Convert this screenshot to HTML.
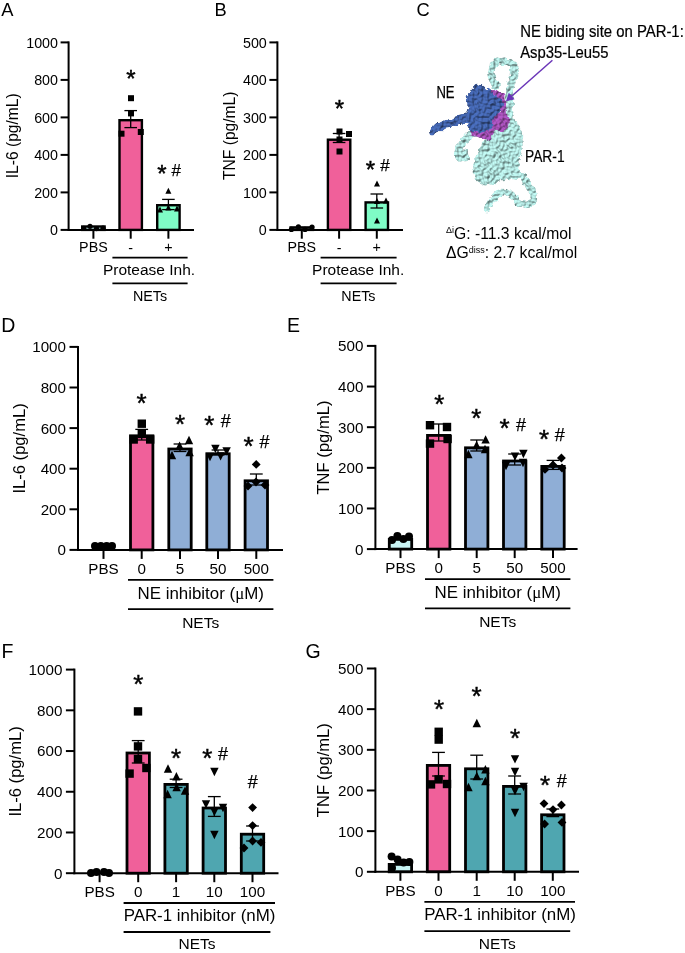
<!DOCTYPE html>
<html lang="en"><head><meta charset="utf-8"><title>Figure</title>
<style>
html,body{margin:0;padding:0;background:#fff;overflow:hidden;}
svg{display:block;font-family:'Liberation Sans', Arial, sans-serif;fill:#000;}
</style></head>
<body>
<svg width="685" height="953" viewBox="0 0 685 953">
<rect width="685" height="953" fill="#fff"/>
<g>
<text x="1.20" y="15.60" font-size="18.3" text-anchor="start" >A</text>
<rect x="82.20" y="226.50" width="22.40" height="3.40" fill="#C8F4F4" stroke="#000" stroke-width="2.4"/>
<rect x="119.50" y="120.20" width="22.40" height="109.70" fill="#F0609A" stroke="#000" stroke-width="2.4"/>
<rect x="157.20" y="205.20" width="22.40" height="24.70" fill="#7FFCC6" stroke="#000" stroke-width="2.4"/>
<line x1="130.70" y1="110.60" x2="130.70" y2="127.60" stroke="#000" stroke-width="1.3" />
<line x1="124.40" y1="110.60" x2="137.00" y2="110.60" stroke="#000" stroke-width="1.3" />
<line x1="124.40" y1="127.60" x2="137.00" y2="127.60" stroke="#000" stroke-width="1.3" />
<line x1="168.40" y1="199.40" x2="168.40" y2="209.60" stroke="#000" stroke-width="1.3" />
<line x1="162.10" y1="199.40" x2="174.70" y2="199.40" stroke="#000" stroke-width="1.3" />
<line x1="162.10" y1="209.60" x2="174.70" y2="209.60" stroke="#000" stroke-width="1.3" />
<circle cx="83.80" cy="228.40" r="2.60" fill="#000"/>
<circle cx="90.00" cy="226.30" r="2.60" fill="#000"/>
<circle cx="96.50" cy="228.60" r="2.60" fill="#000"/>
<circle cx="103.00" cy="228.20" r="2.60" fill="#000"/>
<rect x="128.00" y="95.20" width="6" height="6" fill="#000"/>
<rect x="128.00" y="110.40" width="6" height="6" fill="#000"/>
<rect x="118.50" y="130.70" width="6" height="6" fill="#000"/>
<rect x="137.80" y="129.00" width="6" height="6" fill="#000"/>
<polygon points="165.40,193.80 171.40,193.80 168.40,187.80" fill="#000"/>
<polygon points="157.00,212.50 163.00,212.50 160.00,206.50" fill="#000"/>
<polygon points="174.00,211.50 180.00,211.50 177.00,205.50" fill="#000"/>
<polygon points="165.40,210.50 171.40,210.50 168.40,204.50" fill="#000"/>
<line x1="68.60" y1="41.40" x2="68.60" y2="230.90" stroke="#000" stroke-width="2" />
<line x1="67.60" y1="229.90" x2="194.00" y2="229.90" stroke="#000" stroke-width="2" />
<line x1="60.60" y1="229.90" x2="68.60" y2="229.90" stroke="#000" stroke-width="2" />
<text x="58.00" y="235.02" font-size="14.3" text-anchor="end" >0</text>
<line x1="60.60" y1="192.40" x2="68.60" y2="192.40" stroke="#000" stroke-width="2" />
<text x="58.00" y="197.52" font-size="14.3" text-anchor="end" >200</text>
<line x1="60.60" y1="154.90" x2="68.60" y2="154.90" stroke="#000" stroke-width="2" />
<text x="58.00" y="160.02" font-size="14.3" text-anchor="end" >400</text>
<line x1="60.60" y1="117.40" x2="68.60" y2="117.40" stroke="#000" stroke-width="2" />
<text x="58.00" y="122.52" font-size="14.3" text-anchor="end" >600</text>
<line x1="60.60" y1="79.90" x2="68.60" y2="79.90" stroke="#000" stroke-width="2" />
<text x="58.00" y="85.02" font-size="14.3" text-anchor="end" >800</text>
<line x1="60.60" y1="42.40" x2="68.60" y2="42.40" stroke="#000" stroke-width="2" />
<text x="58.00" y="47.52" font-size="14.3" text-anchor="end" >1000</text>
<line x1="93.40" y1="229.90" x2="93.40" y2="238.70" stroke="#000" stroke-width="2" />
<text x="93.40" y="251.60" font-size="14.3" text-anchor="middle" >PBS</text>
<line x1="130.70" y1="229.90" x2="130.70" y2="238.70" stroke="#000" stroke-width="2" />
<text x="130.70" y="253.20" font-size="14.3" text-anchor="middle" >-</text>
<line x1="168.40" y1="229.90" x2="168.40" y2="238.70" stroke="#000" stroke-width="2" />
<text x="168.40" y="251.60" font-size="14.3" text-anchor="middle" >+</text>
<text transform="translate(18.40,135.75) rotate(-90)" font-size="15.6" text-anchor="middle">IL-6 (pg/mL)</text>
<text x="130.80" y="87.20" font-size="24" text-anchor="middle" stroke="#000" stroke-width="0.45">*</text>
<text x="162.00" y="182.20" font-size="24" text-anchor="middle" stroke="#000" stroke-width="0.45">*</text>
<text x="176.30" y="175.50" font-size="17" text-anchor="middle" stroke="#000" stroke-width="0.25">#</text>
<line x1="112.40" y1="257.60" x2="187.60" y2="257.60" stroke="#000" stroke-width="1.8" />
<text x="149.00" y="275.00" font-size="15.5" text-anchor="middle" >Protease Inh.</text>
<line x1="112.40" y1="283.40" x2="187.60" y2="283.40" stroke="#000" stroke-width="1.8" />
<text x="150.00" y="300.60" font-size="14.3" text-anchor="middle" >NETs</text>
</g>
<g>
<text x="214.40" y="15.60" font-size="18.3" text-anchor="start" >B</text>
<rect x="290.60" y="227.40" width="22.40" height="2.50" fill="#C8F4F4" stroke="#000" stroke-width="2.4"/>
<rect x="327.90" y="139.70" width="22.40" height="90.20" fill="#F0609A" stroke="#000" stroke-width="2.4"/>
<rect x="365.60" y="202.40" width="22.40" height="27.50" fill="#7FFCC6" stroke="#000" stroke-width="2.4"/>
<line x1="339.10" y1="133.50" x2="339.10" y2="142.50" stroke="#000" stroke-width="1.3" />
<line x1="332.80" y1="133.50" x2="345.40" y2="133.50" stroke="#000" stroke-width="1.3" />
<line x1="332.80" y1="142.50" x2="345.40" y2="142.50" stroke="#000" stroke-width="1.3" />
<line x1="376.80" y1="194.00" x2="376.80" y2="208.00" stroke="#000" stroke-width="1.3" />
<line x1="370.50" y1="194.00" x2="383.10" y2="194.00" stroke="#000" stroke-width="1.3" />
<line x1="370.50" y1="208.00" x2="383.10" y2="208.00" stroke="#000" stroke-width="1.3" />
<circle cx="291.40" cy="229.40" r="2.60" fill="#000"/>
<circle cx="298.40" cy="226.80" r="2.60" fill="#000"/>
<circle cx="305.00" cy="229.40" r="2.60" fill="#000"/>
<circle cx="312.00" cy="227.00" r="2.60" fill="#000"/>
<rect x="336.50" y="128.50" width="6" height="6" fill="#000"/>
<rect x="346.00" y="131.00" width="6" height="6" fill="#000"/>
<rect x="336.50" y="136.50" width="6" height="6" fill="#000"/>
<rect x="336.50" y="148.50" width="6" height="6" fill="#000"/>
<polygon points="374.00,186.50 380.00,186.50 377.00,180.50" fill="#000"/>
<polygon points="383.00,203.50 389.00,203.50 386.00,197.50" fill="#000"/>
<polygon points="374.00,204.00 380.00,204.00 377.00,198.00" fill="#000"/>
<polygon points="374.00,223.50 380.00,223.50 377.00,217.50" fill="#000"/>
<line x1="277.40" y1="41.40" x2="277.40" y2="230.90" stroke="#000" stroke-width="2" />
<line x1="276.40" y1="229.90" x2="403.00" y2="229.90" stroke="#000" stroke-width="2" />
<line x1="269.40" y1="229.90" x2="277.40" y2="229.90" stroke="#000" stroke-width="2" />
<text x="266.80" y="235.02" font-size="14.3" text-anchor="end" >0</text>
<line x1="269.40" y1="192.40" x2="277.40" y2="192.40" stroke="#000" stroke-width="2" />
<text x="266.80" y="197.52" font-size="14.3" text-anchor="end" >100</text>
<line x1="269.40" y1="154.90" x2="277.40" y2="154.90" stroke="#000" stroke-width="2" />
<text x="266.80" y="160.02" font-size="14.3" text-anchor="end" >200</text>
<line x1="269.40" y1="117.40" x2="277.40" y2="117.40" stroke="#000" stroke-width="2" />
<text x="266.80" y="122.52" font-size="14.3" text-anchor="end" >300</text>
<line x1="269.40" y1="79.90" x2="277.40" y2="79.90" stroke="#000" stroke-width="2" />
<text x="266.80" y="85.02" font-size="14.3" text-anchor="end" >400</text>
<line x1="269.40" y1="42.40" x2="277.40" y2="42.40" stroke="#000" stroke-width="2" />
<text x="266.80" y="47.52" font-size="14.3" text-anchor="end" >500</text>
<line x1="301.80" y1="229.90" x2="301.80" y2="238.70" stroke="#000" stroke-width="2" />
<text x="301.80" y="251.60" font-size="14.3" text-anchor="middle" >PBS</text>
<line x1="339.10" y1="229.90" x2="339.10" y2="238.70" stroke="#000" stroke-width="2" />
<text x="339.10" y="253.20" font-size="14.3" text-anchor="middle" >-</text>
<line x1="376.80" y1="229.90" x2="376.80" y2="238.70" stroke="#000" stroke-width="2" />
<text x="376.80" y="251.60" font-size="14.3" text-anchor="middle" >+</text>
<text transform="translate(234.60,135.75) rotate(-90)" font-size="15.6" text-anchor="middle">TNF (pg/mL)</text>
<text x="339.50" y="116.70" font-size="24" text-anchor="middle" stroke="#000" stroke-width="0.45">*</text>
<text x="370.50" y="177.70" font-size="24" text-anchor="middle" stroke="#000" stroke-width="0.45">*</text>
<text x="385.00" y="170.90" font-size="17" text-anchor="middle" stroke="#000" stroke-width="0.25">#</text>
<line x1="320.60" y1="257.60" x2="396.60" y2="257.60" stroke="#000" stroke-width="1.8" />
<text x="358.20" y="275.00" font-size="15.5" text-anchor="middle" >Protease Inh.</text>
<line x1="320.60" y1="283.40" x2="396.60" y2="283.40" stroke="#000" stroke-width="1.8" />
<text x="358.40" y="300.60" font-size="14.3" text-anchor="middle" >NETs</text>
</g>
<g>
<text x="1.30" y="331.70" font-size="19.5" text-anchor="start" >D</text>
<rect x="130.50" y="435.80" width="22.40" height="114.10" fill="#F0609A" stroke="#000" stroke-width="2.8"/>
<rect x="168.80" y="449.00" width="22.40" height="100.90" fill="#8FAED6" stroke="#000" stroke-width="2.8"/>
<rect x="206.80" y="453.80" width="22.40" height="96.10" fill="#8FAED6" stroke="#000" stroke-width="2.8"/>
<rect x="245.10" y="480.80" width="22.40" height="69.10" fill="#8FAED6" stroke="#000" stroke-width="2.8"/>
<line x1="141.70" y1="429.40" x2="141.70" y2="440.00" stroke="#000" stroke-width="1.3" />
<line x1="135.30" y1="429.40" x2="148.10" y2="429.40" stroke="#000" stroke-width="1.3" />
<line x1="135.30" y1="440.00" x2="148.10" y2="440.00" stroke="#000" stroke-width="1.3" />
<line x1="180.00" y1="444.00" x2="180.00" y2="451.50" stroke="#000" stroke-width="1.3" />
<line x1="173.60" y1="444.00" x2="186.40" y2="444.00" stroke="#000" stroke-width="1.3" />
<line x1="173.60" y1="451.50" x2="186.40" y2="451.50" stroke="#000" stroke-width="1.3" />
<line x1="218.00" y1="450.00" x2="218.00" y2="455.00" stroke="#000" stroke-width="1.3" />
<line x1="211.60" y1="450.00" x2="224.40" y2="450.00" stroke="#000" stroke-width="1.3" />
<line x1="211.60" y1="455.00" x2="224.40" y2="455.00" stroke="#000" stroke-width="1.3" />
<line x1="256.30" y1="474.00" x2="256.30" y2="485.00" stroke="#000" stroke-width="1.3" />
<line x1="249.90" y1="474.00" x2="262.70" y2="474.00" stroke="#000" stroke-width="1.3" />
<line x1="249.90" y1="485.00" x2="262.70" y2="485.00" stroke="#000" stroke-width="1.3" />
<circle cx="95.00" cy="546.00" r="4.00" fill="#000"/>
<circle cx="100.80" cy="546.00" r="4.00" fill="#000"/>
<circle cx="106.60" cy="546.00" r="4.00" fill="#000"/>
<circle cx="112.00" cy="546.00" r="4.00" fill="#000"/>
<rect x="137.60" y="419.50" width="8.4" height="8.4" fill="#000"/>
<rect x="137.60" y="429.80" width="8.4" height="8.4" fill="#000"/>
<rect x="129.50" y="435.30" width="8.4" height="8.4" fill="#000"/>
<rect x="146.00" y="435.30" width="8.4" height="8.4" fill="#000"/>
<polygon points="184.80,444.20 193.20,444.20 189.00,435.80" fill="#000"/>
<polygon points="175.40,449.80 183.80,449.80 179.60,441.40" fill="#000"/>
<polygon points="167.80,459.20 176.20,459.20 172.00,450.80" fill="#000"/>
<polygon points="185.40,456.20 193.80,456.20 189.60,447.80" fill="#000"/>
<polygon points="211.20,444.80 219.60,444.80 215.40,453.20" fill="#000"/>
<polygon points="222.40,447.20 230.80,447.20 226.60,455.60" fill="#000"/>
<polygon points="205.80,452.80 214.20,452.80 210.00,461.20" fill="#000"/>
<polygon points="216.40,452.20 224.80,452.20 220.60,460.60" fill="#000"/>
<polygon points="251.79,464.40 256.20,459.99 260.61,464.40 256.20,468.81" fill="#000"/>
<polygon points="243.59,486.00 248.00,481.59 252.41,486.00 248.00,490.41" fill="#000"/>
<polygon points="260.59,485.00 265.00,480.59 269.41,485.00 265.00,489.41" fill="#000"/>
<polygon points="251.59,482.00 256.00,477.59 260.41,482.00 256.00,486.41" fill="#000"/>
<line x1="78.00" y1="345.90" x2="78.00" y2="550.90" stroke="#000" stroke-width="2" />
<line x1="77.00" y1="549.90" x2="283.00" y2="549.90" stroke="#000" stroke-width="2" />
<line x1="69.50" y1="549.90" x2="78.00" y2="549.90" stroke="#000" stroke-width="2" />
<text x="66.00" y="555.34" font-size="15.2" text-anchor="end" >0</text>
<line x1="69.50" y1="509.30" x2="78.00" y2="509.30" stroke="#000" stroke-width="2" />
<text x="66.00" y="514.74" font-size="15.2" text-anchor="end" >200</text>
<line x1="69.50" y1="468.70" x2="78.00" y2="468.70" stroke="#000" stroke-width="2" />
<text x="66.00" y="474.14" font-size="15.2" text-anchor="end" >400</text>
<line x1="69.50" y1="428.10" x2="78.00" y2="428.10" stroke="#000" stroke-width="2" />
<text x="66.00" y="433.54" font-size="15.2" text-anchor="end" >600</text>
<line x1="69.50" y1="387.50" x2="78.00" y2="387.50" stroke="#000" stroke-width="2" />
<text x="66.00" y="392.94" font-size="15.2" text-anchor="end" >800</text>
<line x1="69.50" y1="346.90" x2="78.00" y2="346.90" stroke="#000" stroke-width="2" />
<text x="66.00" y="352.34" font-size="15.2" text-anchor="end" >1000</text>
<line x1="103.50" y1="549.90" x2="103.50" y2="558.90" stroke="#000" stroke-width="2" />
<text x="103.50" y="573.90" font-size="15.2" text-anchor="middle" >PBS</text>
<line x1="141.70" y1="549.90" x2="141.70" y2="558.90" stroke="#000" stroke-width="2" />
<text x="141.70" y="573.90" font-size="15.2" text-anchor="middle" >0</text>
<line x1="180.00" y1="549.90" x2="180.00" y2="558.90" stroke="#000" stroke-width="2" />
<text x="180.00" y="573.90" font-size="15.2" text-anchor="middle" >5</text>
<line x1="218.00" y1="549.90" x2="218.00" y2="558.90" stroke="#000" stroke-width="2" />
<text x="218.00" y="573.90" font-size="15.2" text-anchor="middle" >50</text>
<line x1="256.30" y1="549.90" x2="256.30" y2="558.90" stroke="#000" stroke-width="2" />
<text x="256.30" y="573.90" font-size="15.2" text-anchor="middle" >500</text>
<text transform="translate(24.60,448.40) rotate(-90)" font-size="16.6" text-anchor="middle">IL-6 (pg/mL)</text>
<text x="141.60" y="412.00" font-size="26" text-anchor="middle" stroke="#000" stroke-width="0.45">*</text>
<text x="180.00" y="432.60" font-size="26" text-anchor="middle" stroke="#000" stroke-width="0.45">*</text>
<text x="209.40" y="434.00" font-size="26" text-anchor="middle" stroke="#000" stroke-width="0.45">*</text>
<text x="225.70" y="427.20" font-size="18" text-anchor="middle" stroke="#000" stroke-width="0.25">#</text>
<text x="248.60" y="455.00" font-size="26" text-anchor="middle" stroke="#000" stroke-width="0.45">*</text>
<text x="264.50" y="447.80" font-size="18" text-anchor="middle" stroke="#000" stroke-width="0.25">#</text>
<line x1="128.00" y1="579.90" x2="273.40" y2="579.90" stroke="#000" stroke-width="1.8" />
<text x="200.70" y="598.90" font-size="16.9" text-anchor="middle" >NE inhibitor (<tspan font-family="'Liberation Serif', serif">&#956;</tspan>M)</text>
<line x1="128.00" y1="609.10" x2="273.40" y2="609.10" stroke="#000" stroke-width="1.8" />
<text x="200.70" y="627.50" font-size="15.5" text-anchor="middle" >NETs</text>
</g>
<g>
<text x="287.00" y="331.70" font-size="19.5" text-anchor="start" >E</text>
<rect x="389.30" y="539.40" width="22.40" height="9.70" fill="#C8F4F4" stroke="#000" stroke-width="2.8"/>
<rect x="427.50" y="435.40" width="22.40" height="113.70" fill="#F0609A" stroke="#000" stroke-width="2.8"/>
<rect x="465.50" y="447.80" width="22.40" height="101.30" fill="#8FAED6" stroke="#000" stroke-width="2.8"/>
<rect x="503.50" y="461.00" width="22.40" height="88.10" fill="#8FAED6" stroke="#000" stroke-width="2.8"/>
<rect x="541.80" y="466.40" width="22.40" height="82.70" fill="#8FAED6" stroke="#000" stroke-width="2.8"/>
<line x1="438.70" y1="424.00" x2="438.70" y2="441.00" stroke="#000" stroke-width="1.3" />
<line x1="432.30" y1="424.00" x2="445.10" y2="424.00" stroke="#000" stroke-width="1.3" />
<line x1="432.30" y1="441.00" x2="445.10" y2="441.00" stroke="#000" stroke-width="1.3" />
<line x1="476.70" y1="440.00" x2="476.70" y2="451.00" stroke="#000" stroke-width="1.3" />
<line x1="470.30" y1="440.00" x2="483.10" y2="440.00" stroke="#000" stroke-width="1.3" />
<line x1="470.30" y1="451.00" x2="483.10" y2="451.00" stroke="#000" stroke-width="1.3" />
<line x1="514.70" y1="454.00" x2="514.70" y2="465.00" stroke="#000" stroke-width="1.3" />
<line x1="508.30" y1="454.00" x2="521.10" y2="454.00" stroke="#000" stroke-width="1.3" />
<line x1="508.30" y1="465.00" x2="521.10" y2="465.00" stroke="#000" stroke-width="1.3" />
<line x1="553.00" y1="460.40" x2="553.00" y2="469.40" stroke="#000" stroke-width="1.3" />
<line x1="546.60" y1="460.40" x2="559.40" y2="460.40" stroke="#000" stroke-width="1.3" />
<line x1="546.60" y1="469.40" x2="559.40" y2="469.40" stroke="#000" stroke-width="1.3" />
<circle cx="397.40" cy="536.00" r="4.00" fill="#000"/>
<circle cx="409.00" cy="536.60" r="4.00" fill="#000"/>
<circle cx="392.00" cy="540.00" r="4.00" fill="#000"/>
<circle cx="403.40" cy="539.00" r="4.00" fill="#000"/>
<rect x="425.80" y="421.00" width="8.4" height="8.4" fill="#000"/>
<rect x="442.80" y="422.80" width="8.4" height="8.4" fill="#000"/>
<rect x="425.80" y="439.40" width="8.4" height="8.4" fill="#000"/>
<rect x="443.40" y="434.80" width="8.4" height="8.4" fill="#000"/>
<polygon points="481.40,443.60 489.80,443.60 485.60,435.20" fill="#000"/>
<polygon points="472.40,449.20 480.80,449.20 476.60,440.80" fill="#000"/>
<polygon points="464.20,458.20 472.60,458.20 468.40,449.80" fill="#000"/>
<polygon points="480.80,453.20 489.20,453.20 485.00,444.80" fill="#000"/>
<polygon points="519.20,449.80 527.60,449.80 523.40,458.20" fill="#000"/>
<polygon points="510.80,452.40 519.20,452.40 515.00,460.80" fill="#000"/>
<polygon points="501.80,461.80 510.20,461.80 506.00,470.20" fill="#000"/>
<polygon points="518.80,458.80 527.20,458.80 523.00,467.20" fill="#000"/>
<polygon points="556.99,458.00 561.40,453.59 565.81,458.00 561.40,462.41" fill="#000"/>
<polygon points="548.59,465.00 553.00,460.59 557.41,465.00 553.00,469.41" fill="#000"/>
<polygon points="540.59,469.40 545.00,464.99 549.41,469.40 545.00,473.81" fill="#000"/>
<polygon points="557.59,468.00 562.00,463.59 566.41,468.00 562.00,472.41" fill="#000"/>
<line x1="375.40" y1="344.90" x2="375.40" y2="550.10" stroke="#000" stroke-width="2" />
<line x1="374.40" y1="549.10" x2="577.60" y2="549.10" stroke="#000" stroke-width="2" />
<line x1="366.90" y1="549.10" x2="375.40" y2="549.10" stroke="#000" stroke-width="2" />
<text x="363.40" y="554.54" font-size="15.2" text-anchor="end" >0</text>
<line x1="366.90" y1="508.46" x2="375.40" y2="508.46" stroke="#000" stroke-width="2" />
<text x="363.40" y="513.90" font-size="15.2" text-anchor="end" >100</text>
<line x1="366.90" y1="467.82" x2="375.40" y2="467.82" stroke="#000" stroke-width="2" />
<text x="363.40" y="473.26" font-size="15.2" text-anchor="end" >200</text>
<line x1="366.90" y1="427.18" x2="375.40" y2="427.18" stroke="#000" stroke-width="2" />
<text x="363.40" y="432.62" font-size="15.2" text-anchor="end" >300</text>
<line x1="366.90" y1="386.54" x2="375.40" y2="386.54" stroke="#000" stroke-width="2" />
<text x="363.40" y="391.98" font-size="15.2" text-anchor="end" >400</text>
<line x1="366.90" y1="345.90" x2="375.40" y2="345.90" stroke="#000" stroke-width="2" />
<text x="363.40" y="351.34" font-size="15.2" text-anchor="end" >500</text>
<line x1="400.50" y1="549.10" x2="400.50" y2="558.10" stroke="#000" stroke-width="2" />
<text x="400.50" y="573.10" font-size="15.2" text-anchor="middle" >PBS</text>
<line x1="438.70" y1="549.10" x2="438.70" y2="558.10" stroke="#000" stroke-width="2" />
<text x="438.70" y="573.10" font-size="15.2" text-anchor="middle" >0</text>
<line x1="476.70" y1="549.10" x2="476.70" y2="558.10" stroke="#000" stroke-width="2" />
<text x="476.70" y="573.10" font-size="15.2" text-anchor="middle" >5</text>
<line x1="514.70" y1="549.10" x2="514.70" y2="558.10" stroke="#000" stroke-width="2" />
<text x="514.70" y="573.10" font-size="15.2" text-anchor="middle" >50</text>
<line x1="553.00" y1="549.10" x2="553.00" y2="558.10" stroke="#000" stroke-width="2" />
<text x="553.00" y="573.10" font-size="15.2" text-anchor="middle" >500</text>
<text transform="translate(329.20,447.50) rotate(-90)" font-size="16.6" text-anchor="middle">TNF (pg/mL)</text>
<text x="439.40" y="413.40" font-size="26" text-anchor="middle" stroke="#000" stroke-width="0.45">*</text>
<text x="476.40" y="427.40" font-size="26" text-anchor="middle" stroke="#000" stroke-width="0.45">*</text>
<text x="504.60" y="437.00" font-size="26" text-anchor="middle" stroke="#000" stroke-width="0.45">*</text>
<text x="521.00" y="430.80" font-size="18" text-anchor="middle" stroke="#000" stroke-width="0.25">#</text>
<text x="544.00" y="448.00" font-size="26" text-anchor="middle" stroke="#000" stroke-width="0.45">*</text>
<text x="559.80" y="440.80" font-size="18" text-anchor="middle" stroke="#000" stroke-width="0.25">#</text>
<line x1="425.00" y1="579.10" x2="570.40" y2="579.10" stroke="#000" stroke-width="1.8" />
<text x="497.70" y="598.10" font-size="16.9" text-anchor="middle" >NE inhibitor (<tspan font-family="'Liberation Serif', serif">&#956;</tspan>M)</text>
<line x1="425.00" y1="608.30" x2="570.40" y2="608.30" stroke="#000" stroke-width="1.8" />
<text x="497.70" y="626.70" font-size="15.5" text-anchor="middle" >NETs</text>
</g>
<g>
<text x="1.40" y="658.10" font-size="19.5" text-anchor="start" >F</text>
<rect x="127.00" y="753.00" width="22.40" height="120.20" fill="#F0609A" stroke="#000" stroke-width="2.8"/>
<rect x="164.90" y="784.40" width="22.40" height="88.80" fill="#4FA6B0" stroke="#000" stroke-width="2.8"/>
<rect x="203.10" y="808.00" width="22.40" height="65.20" fill="#4FA6B0" stroke="#000" stroke-width="2.8"/>
<rect x="241.30" y="834.20" width="22.40" height="39.00" fill="#4FA6B0" stroke="#000" stroke-width="2.8"/>
<line x1="138.20" y1="740.60" x2="138.20" y2="763.00" stroke="#000" stroke-width="1.3" />
<line x1="131.80" y1="740.60" x2="144.60" y2="740.60" stroke="#000" stroke-width="1.3" />
<line x1="131.80" y1="763.00" x2="144.60" y2="763.00" stroke="#000" stroke-width="1.3" />
<line x1="176.10" y1="779.20" x2="176.10" y2="787.50" stroke="#000" stroke-width="1.3" />
<line x1="169.70" y1="779.20" x2="182.50" y2="779.20" stroke="#000" stroke-width="1.3" />
<line x1="169.70" y1="787.50" x2="182.50" y2="787.50" stroke="#000" stroke-width="1.3" />
<line x1="214.30" y1="796.60" x2="214.30" y2="816.40" stroke="#000" stroke-width="1.3" />
<line x1="207.90" y1="796.60" x2="220.70" y2="796.60" stroke="#000" stroke-width="1.3" />
<line x1="207.90" y1="816.40" x2="220.70" y2="816.40" stroke="#000" stroke-width="1.3" />
<line x1="252.50" y1="826.00" x2="252.50" y2="841.00" stroke="#000" stroke-width="1.3" />
<line x1="246.10" y1="826.00" x2="258.90" y2="826.00" stroke="#000" stroke-width="1.3" />
<line x1="246.10" y1="841.00" x2="258.90" y2="841.00" stroke="#000" stroke-width="1.3" />
<circle cx="91.00" cy="873.00" r="4.00" fill="#000"/>
<circle cx="96.50" cy="872.00" r="4.00" fill="#000"/>
<circle cx="104.00" cy="872.00" r="4.00" fill="#000"/>
<circle cx="109.00" cy="873.00" r="4.00" fill="#000"/>
<rect x="133.80" y="707.20" width="8.4" height="8.4" fill="#000"/>
<rect x="133.80" y="742.20" width="8.4" height="8.4" fill="#000"/>
<rect x="133.80" y="754.80" width="8.4" height="8.4" fill="#000"/>
<rect x="142.20" y="763.80" width="8.4" height="8.4" fill="#000"/>
<rect x="125.40" y="769.40" width="8.4" height="8.4" fill="#000"/>
<polygon points="163.80,772.70 172.20,772.70 168.00,764.30" fill="#000"/>
<polygon points="172.20,780.40 180.60,780.40 176.40,772.00" fill="#000"/>
<polygon points="163.40,798.20 171.80,798.20 167.60,789.80" fill="#000"/>
<polygon points="172.40,791.20 180.80,791.20 176.60,782.80" fill="#000"/>
<polygon points="180.80,794.80 189.20,794.80 185.00,786.40" fill="#000"/>
<polygon points="210.20,767.80 218.60,767.80 214.40,776.20" fill="#000"/>
<polygon points="201.80,800.20 210.20,800.20 206.00,808.60" fill="#000"/>
<polygon points="218.80,803.80 227.20,803.80 223.00,812.20" fill="#000"/>
<polygon points="210.20,807.80 218.60,807.80 214.40,816.20" fill="#000"/>
<polygon points="210.20,830.80 218.60,830.80 214.40,839.20" fill="#000"/>
<polygon points="248.19,807.60 252.60,803.19 257.01,807.60 252.60,812.01" fill="#000"/>
<polygon points="248.19,825.60 252.60,821.19 257.01,825.60 252.60,830.01" fill="#000"/>
<polygon points="248.19,841.00 252.60,836.59 257.01,841.00 252.60,845.41" fill="#000"/>
<polygon points="256.59,842.40 261.00,837.99 265.41,842.40 261.00,846.81" fill="#000"/>
<polygon points="239.59,848.00 244.00,843.59 248.41,848.00 244.00,852.41" fill="#000"/>
<line x1="74.40" y1="668.60" x2="74.40" y2="874.20" stroke="#000" stroke-width="2" />
<line x1="73.40" y1="873.20" x2="278.50" y2="873.20" stroke="#000" stroke-width="2" />
<line x1="65.90" y1="873.20" x2="74.40" y2="873.20" stroke="#000" stroke-width="2" />
<text x="62.40" y="878.64" font-size="15.2" text-anchor="end" >0</text>
<line x1="65.90" y1="832.48" x2="74.40" y2="832.48" stroke="#000" stroke-width="2" />
<text x="62.40" y="837.92" font-size="15.2" text-anchor="end" >200</text>
<line x1="65.90" y1="791.76" x2="74.40" y2="791.76" stroke="#000" stroke-width="2" />
<text x="62.40" y="797.20" font-size="15.2" text-anchor="end" >400</text>
<line x1="65.90" y1="751.04" x2="74.40" y2="751.04" stroke="#000" stroke-width="2" />
<text x="62.40" y="756.48" font-size="15.2" text-anchor="end" >600</text>
<line x1="65.90" y1="710.32" x2="74.40" y2="710.32" stroke="#000" stroke-width="2" />
<text x="62.40" y="715.76" font-size="15.2" text-anchor="end" >800</text>
<line x1="65.90" y1="669.60" x2="74.40" y2="669.60" stroke="#000" stroke-width="2" />
<text x="62.40" y="675.04" font-size="15.2" text-anchor="end" >1000</text>
<line x1="99.60" y1="873.20" x2="99.60" y2="882.20" stroke="#000" stroke-width="2" />
<text x="99.60" y="896.60" font-size="15.2" text-anchor="middle" >PBS</text>
<line x1="138.20" y1="873.20" x2="138.20" y2="882.20" stroke="#000" stroke-width="2" />
<text x="138.20" y="896.60" font-size="15.2" text-anchor="middle" >0</text>
<line x1="176.10" y1="873.20" x2="176.10" y2="882.20" stroke="#000" stroke-width="2" />
<text x="176.10" y="896.60" font-size="15.2" text-anchor="middle" >1</text>
<line x1="214.30" y1="873.20" x2="214.30" y2="882.20" stroke="#000" stroke-width="2" />
<text x="214.30" y="896.60" font-size="15.2" text-anchor="middle" >10</text>
<line x1="252.50" y1="873.20" x2="252.50" y2="882.20" stroke="#000" stroke-width="2" />
<text x="252.50" y="896.60" font-size="15.2" text-anchor="middle" >100</text>
<text transform="translate(21.00,771.40) rotate(-90)" font-size="16.6" text-anchor="middle">IL-6 (pg/mL)</text>
<text x="138.20" y="693.00" font-size="26" text-anchor="middle" stroke="#000" stroke-width="0.45">*</text>
<text x="176.00" y="767.00" font-size="26" text-anchor="middle" stroke="#000" stroke-width="0.45">*</text>
<text x="207.40" y="767.00" font-size="26" text-anchor="middle" stroke="#000" stroke-width="0.45">*</text>
<text x="223.00" y="760.20" font-size="18" text-anchor="middle" stroke="#000" stroke-width="0.25">#</text>
<text x="252.70" y="787.80" font-size="18" text-anchor="middle" stroke="#000" stroke-width="0.25">#</text>
<line x1="123.60" y1="903.00" x2="275.00" y2="903.00" stroke="#000" stroke-width="1.8" />
<text x="199.50" y="921.00" font-size="16.9" text-anchor="middle" >PAR-1 inhibitor (nM)</text>
<line x1="123.60" y1="932.00" x2="270.40" y2="932.00" stroke="#000" stroke-width="1.8" />
<text x="197.00" y="949.20" font-size="15.5" text-anchor="middle" >NETs</text>
</g>
<g>
<text x="305.60" y="658.10" font-size="19.5" text-anchor="start" >G</text>
<rect x="389.20" y="864.40" width="22.40" height="7.40" fill="#C8F4F4" stroke="#000" stroke-width="2.8"/>
<rect x="427.30" y="765.40" width="22.40" height="106.40" fill="#F0609A" stroke="#000" stroke-width="2.8"/>
<rect x="465.50" y="768.80" width="22.40" height="103.00" fill="#4FA6B0" stroke="#000" stroke-width="2.8"/>
<rect x="503.50" y="786.40" width="22.40" height="85.40" fill="#4FA6B0" stroke="#000" stroke-width="2.8"/>
<rect x="541.60" y="814.80" width="22.40" height="57.00" fill="#4FA6B0" stroke="#000" stroke-width="2.8"/>
<line x1="438.50" y1="752.40" x2="438.50" y2="776.00" stroke="#000" stroke-width="1.3" />
<line x1="432.10" y1="752.40" x2="444.90" y2="752.40" stroke="#000" stroke-width="1.3" />
<line x1="432.10" y1="776.00" x2="444.90" y2="776.00" stroke="#000" stroke-width="1.3" />
<line x1="476.70" y1="755.20" x2="476.70" y2="779.00" stroke="#000" stroke-width="1.3" />
<line x1="470.30" y1="755.20" x2="483.10" y2="755.20" stroke="#000" stroke-width="1.3" />
<line x1="470.30" y1="779.00" x2="483.10" y2="779.00" stroke="#000" stroke-width="1.3" />
<line x1="514.70" y1="776.00" x2="514.70" y2="794.00" stroke="#000" stroke-width="1.3" />
<line x1="508.30" y1="776.00" x2="521.10" y2="776.00" stroke="#000" stroke-width="1.3" />
<line x1="508.30" y1="794.00" x2="521.10" y2="794.00" stroke="#000" stroke-width="1.3" />
<line x1="552.80" y1="809.00" x2="552.80" y2="816.60" stroke="#000" stroke-width="1.3" />
<line x1="546.40" y1="809.00" x2="559.20" y2="809.00" stroke="#000" stroke-width="1.3" />
<line x1="546.40" y1="816.60" x2="559.20" y2="816.60" stroke="#000" stroke-width="1.3" />
<circle cx="391.60" cy="856.60" r="4.00" fill="#000"/>
<circle cx="397.60" cy="859.60" r="4.00" fill="#000"/>
<circle cx="403.60" cy="862.40" r="4.00" fill="#000"/>
<circle cx="409.40" cy="862.00" r="4.00" fill="#000"/>
<circle cx="392.00" cy="868.00" r="4.00" fill="#000"/>
<rect x="434.50" y="727.60" width="8.4" height="8.4" fill="#000"/>
<rect x="434.50" y="735.40" width="8.4" height="8.4" fill="#000"/>
<rect x="434.40" y="775.20" width="8.4" height="8.4" fill="#000"/>
<rect x="426.80" y="780.20" width="8.4" height="8.4" fill="#000"/>
<rect x="442.80" y="779.80" width="8.4" height="8.4" fill="#000"/>
<polygon points="472.60,727.20 481.00,727.20 476.80,718.80" fill="#000"/>
<polygon points="481.20,773.50 489.60,773.50 485.40,765.10" fill="#000"/>
<polygon points="472.60,780.20 481.00,780.20 476.80,771.80" fill="#000"/>
<polygon points="481.20,785.20 489.60,785.20 485.40,776.80" fill="#000"/>
<polygon points="464.30,791.20 472.70,791.20 468.50,782.80" fill="#000"/>
<polygon points="510.80,755.20 519.20,755.20 515.00,763.60" fill="#000"/>
<polygon points="510.80,767.80 519.20,767.80 515.00,776.20" fill="#000"/>
<polygon points="519.40,782.80 527.80,782.80 523.60,791.20" fill="#000"/>
<polygon points="510.80,786.80 519.20,786.80 515.00,795.20" fill="#000"/>
<polygon points="510.80,808.80 519.20,808.80 515.00,817.20" fill="#000"/>
<polygon points="539.59,803.60 544.00,799.19 548.41,803.60 544.00,808.01" fill="#000"/>
<polygon points="556.99,805.00 561.40,800.59 565.81,805.00 561.40,809.41" fill="#000"/>
<polygon points="548.59,809.60 553.00,805.19 557.41,809.60 553.00,814.01" fill="#000"/>
<polygon points="540.19,824.00 544.60,819.59 549.01,824.00 544.60,828.41" fill="#000"/>
<polygon points="557.59,822.40 562.00,817.99 566.41,822.40 562.00,826.81" fill="#000"/>
<line x1="375.40" y1="667.50" x2="375.40" y2="872.80" stroke="#000" stroke-width="2" />
<line x1="374.40" y1="871.80" x2="579.00" y2="871.80" stroke="#000" stroke-width="2" />
<line x1="366.90" y1="871.80" x2="375.40" y2="871.80" stroke="#000" stroke-width="2" />
<text x="363.40" y="877.24" font-size="15.2" text-anchor="end" >0</text>
<line x1="366.90" y1="831.14" x2="375.40" y2="831.14" stroke="#000" stroke-width="2" />
<text x="363.40" y="836.58" font-size="15.2" text-anchor="end" >100</text>
<line x1="366.90" y1="790.48" x2="375.40" y2="790.48" stroke="#000" stroke-width="2" />
<text x="363.40" y="795.92" font-size="15.2" text-anchor="end" >200</text>
<line x1="366.90" y1="749.82" x2="375.40" y2="749.82" stroke="#000" stroke-width="2" />
<text x="363.40" y="755.26" font-size="15.2" text-anchor="end" >300</text>
<line x1="366.90" y1="709.16" x2="375.40" y2="709.16" stroke="#000" stroke-width="2" />
<text x="363.40" y="714.60" font-size="15.2" text-anchor="end" >400</text>
<line x1="366.90" y1="668.50" x2="375.40" y2="668.50" stroke="#000" stroke-width="2" />
<text x="363.40" y="673.94" font-size="15.2" text-anchor="end" >500</text>
<line x1="400.40" y1="871.80" x2="400.40" y2="880.80" stroke="#000" stroke-width="2" />
<text x="400.40" y="895.80" font-size="15.2" text-anchor="middle" >PBS</text>
<line x1="438.50" y1="871.80" x2="438.50" y2="880.80" stroke="#000" stroke-width="2" />
<text x="438.50" y="895.80" font-size="15.2" text-anchor="middle" >0</text>
<line x1="476.70" y1="871.80" x2="476.70" y2="880.80" stroke="#000" stroke-width="2" />
<text x="476.70" y="895.80" font-size="15.2" text-anchor="middle" >1</text>
<line x1="514.70" y1="871.80" x2="514.70" y2="880.80" stroke="#000" stroke-width="2" />
<text x="514.70" y="895.80" font-size="15.2" text-anchor="middle" >10</text>
<line x1="552.80" y1="871.80" x2="552.80" y2="880.80" stroke="#000" stroke-width="2" />
<text x="552.80" y="895.80" font-size="15.2" text-anchor="middle" >100</text>
<text transform="translate(329.20,770.15) rotate(-90)" font-size="16.6" text-anchor="middle">TNF (pg/mL)</text>
<text x="439.00" y="718.40" font-size="26" text-anchor="middle" stroke="#000" stroke-width="0.45">*</text>
<text x="476.60" y="705.00" font-size="26" text-anchor="middle" stroke="#000" stroke-width="0.45">*</text>
<text x="515.00" y="747.00" font-size="26" text-anchor="middle" stroke="#000" stroke-width="0.45">*</text>
<text x="545.00" y="794.00" font-size="26" text-anchor="middle" stroke="#000" stroke-width="0.45">*</text>
<text x="561.70" y="787.20" font-size="18" text-anchor="middle" stroke="#000" stroke-width="0.25">#</text>
<line x1="424.40" y1="901.80" x2="575.00" y2="901.80" stroke="#000" stroke-width="1.8" />
<text x="500.00" y="920.20" font-size="16.9" text-anchor="middle" >PAR-1 inhibitor (nM)</text>
<line x1="424.40" y1="931.20" x2="570.20" y2="931.20" stroke="#000" stroke-width="1.8" />
<text x="497.30" y="948.60" font-size="15.5" text-anchor="middle" >NETs</text>
</g>
<text x="416.40" y="15.80" font-size="18.3" text-anchor="start" >C</text>
<text x="520.20" y="36.80" font-size="15.6" text-anchor="start" textLength="163.6" lengthAdjust="spacingAndGlyphs" stroke="#000" stroke-width="0.2">NE biding site on PAR-1:</text>
<text x="520.20" y="57.50" font-size="15.6" text-anchor="start" textLength="88.3" lengthAdjust="spacingAndGlyphs" stroke="#000" stroke-width="0.2">Asp35-Leu55</text>
<text x="436.40" y="98.10" font-size="15.8" text-anchor="start" textLength="18.2" lengthAdjust="spacingAndGlyphs" stroke="#000" stroke-width="0.25">NE</text>
<text x="525.00" y="162.00" font-size="15.6" text-anchor="start" textLength="39.6" lengthAdjust="spacingAndGlyphs" stroke="#000" stroke-width="0.2">PAR-1</text>
<text x="446" y="238.5" font-size="15.7"><tspan font-size="9" dy="-5.5">&#916;i</tspan><tspan dy="5.5">G: -11.3 kcal/mol</tspan></text>
<text x="446" y="257.6" font-size="15.7">&#916;G<tspan font-size="9" dy="-5">diss</tspan><tspan dy="5">: 2.7 kcal/mol</tspan></text>
<defs>
<filter id="bump" x="-10%" y="-10%" width="120%" height="120%" color-interpolation-filters="sRGB">
  <feTurbulence type="fractalNoise" baseFrequency="0.2" numOctaves="2" seed="7" result="n"/>
  <feDisplacementMap in="SourceGraphic" in2="n" scale="4" xChannelSelector="R" yChannelSelector="G" result="d"/>
  <feTurbulence type="fractalNoise" baseFrequency="0.33" numOctaves="1" seed="11" result="n2"/>
  <feGaussianBlur in="n2" stdDeviation="0.5" result="nb"/>
  <feDiffuseLighting in="nb" surfaceScale="3.0" diffuseConstant="1.0" lighting-color="#ffffff" result="l">
    <feDistantLight azimuth="235" elevation="60"/>
  </feDiffuseLighting>
  <feComposite in="l" in2="d" operator="arithmetic" k1="0.8" k2="0" k3="0.3" k4="0" result="m"/>
  <feComposite in="m" in2="d" operator="in"/>
</filter>
</defs>
<g filter="url(#bump)" transform="translate(1,2.2)"><g fill="#B4E7E2"><polygon points="492.4812003173454,129.7344873175053 499.9311451264021,121.79868257521493 507.5568142327184,117.7445877380284 513.2333019841849,121.62854970834334 516.9897162264159,125.48974047969187 519.7309348335151,131.2765083639423 519.9188068989572,140.86013276720206 518.2110987759729,150.19958058691807 516.3267932858897,159.33638920152234 515.2233023529454,168.7311252551945 512.9945998658083,173.50695928717025 508.3090466842396,175.33789786251273 502.7117551338401,176.72322908141413 495.24276541772645,178.2164459772813 488.60540551459667,180.8048645591293 481.9254259721102,180.4561130967121 477.18226747855834,177.14270725002183 473.99444710812736,168.99669155240787 474.7258806753351,159.48878977464759 478.7964455894813,151.11306300912818 482.59204893716924,143.83986914555683 486.20067424075705,138.34103742214097 488.84079280400437,133.59156132798407"/><circle cx="493.2" cy="129.7" r="2.1"/><circle cx="494.3" cy="127.6" r="2.3"/><circle cx="494.2" cy="126.5" r="2.5"/><circle cx="496.5" cy="125.3" r="1.9"/><circle cx="498.3" cy="124.7" r="2.4"/><circle cx="498.0" cy="123.3" r="2.1"/><circle cx="499.5" cy="121.5" r="2.3"/><circle cx="501.2" cy="120.8" r="2.0"/><circle cx="503.6" cy="120.4" r="2.4"/><circle cx="504.4" cy="120.0" r="2.2"/><circle cx="506.2" cy="118.7" r="2.4"/><circle cx="507.4" cy="117.0" r="1.9"/><circle cx="508.4" cy="117.9" r="2.5"/><circle cx="510.4" cy="120.2" r="1.9"/><circle cx="511.8" cy="121.4" r="2.3"/><circle cx="513.1" cy="121.6" r="1.9"/><circle cx="513.9" cy="122.3" r="2.1"/><circle cx="515.5" cy="124.9" r="2.0"/><circle cx="516.5" cy="125.1" r="2.0"/><circle cx="517.3" cy="126.5" r="2.2"/><circle cx="517.5" cy="129.1" r="2.1"/><circle cx="519.8" cy="130.2" r="2.3"/><circle cx="519.7" cy="132.1" r="1.9"/><circle cx="520.1" cy="132.8" r="2.3"/><circle cx="520.2" cy="134.5" r="2.0"/><circle cx="519.0" cy="136.5" r="1.9"/><circle cx="519.7" cy="139.8" r="2.1"/><circle cx="519.6" cy="140.8" r="2.1"/><circle cx="520.0" cy="143.1" r="2.0"/><circle cx="518.8" cy="144.9" r="2.5"/><circle cx="519.2" cy="146.3" r="2.5"/><circle cx="517.7" cy="147.5" r="2.4"/><circle cx="518.0" cy="149.4" r="2.2"/><circle cx="518.7" cy="152.1" r="2.1"/><circle cx="516.7" cy="153.1" r="2.5"/><circle cx="517.1" cy="156.5" r="1.9"/><circle cx="516.2" cy="156.7" r="2.1"/><circle cx="515.5" cy="158.9" r="2.1"/><circle cx="515.8" cy="160.4" r="1.9"/><circle cx="516.7" cy="162.5" r="2.2"/><circle cx="515.5" cy="165.0" r="1.9"/><circle cx="515.1" cy="166.1" r="2.2"/><circle cx="516.0" cy="168.9" r="2.4"/><circle cx="514.0" cy="169.5" r="2.2"/><circle cx="513.7" cy="172.0" r="2.1"/><circle cx="513.2" cy="173.9" r="2.5"/><circle cx="511.1" cy="174.0" r="2.4"/><circle cx="509.4" cy="174.0" r="2.1"/><circle cx="507.6" cy="175.8" r="2.4"/><circle cx="506.1" cy="175.1" r="1.9"/><circle cx="504.1" cy="175.5" r="2.2"/><circle cx="502.9" cy="176.3" r="1.9"/><circle cx="501.2" cy="176.3" r="2.0"/><circle cx="498.6" cy="177.2" r="1.9"/><circle cx="497.0" cy="177.5" r="2.4"/><circle cx="495.3" cy="178.9" r="2.3"/><circle cx="494.1" cy="179.0" r="2.2"/><circle cx="492.5" cy="179.8" r="2.5"/><circle cx="490.7" cy="180.5" r="2.0"/><circle cx="489.2" cy="180.6" r="2.0"/><circle cx="486.2" cy="180.1" r="2.0"/><circle cx="485.6" cy="180.2" r="1.9"/><circle cx="484.1" cy="180.6" r="1.9"/><circle cx="481.1" cy="179.8" r="2.1"/><circle cx="481.0" cy="180.2" r="2.3"/><circle cx="478.3" cy="178.1" r="2.1"/><circle cx="476.9" cy="176.3" r="2.3"/><circle cx="477.1" cy="175.9" r="1.9"/><circle cx="476.0" cy="173.3" r="2.3"/><circle cx="475.2" cy="173.0" r="2.4"/><circle cx="473.9" cy="170.3" r="2.5"/><circle cx="473.9" cy="168.9" r="2.2"/><circle cx="474.6" cy="167.9" r="2.2"/><circle cx="475.1" cy="165.4" r="1.9"/><circle cx="475.0" cy="163.1" r="1.9"/><circle cx="475.4" cy="160.5" r="2.3"/><circle cx="474.7" cy="160.2" r="2.1"/><circle cx="475.0" cy="157.4" r="2.0"/><circle cx="476.5" cy="155.9" r="2.4"/><circle cx="476.7" cy="154.2" r="2.0"/><circle cx="478.9" cy="153.4" r="2.4"/><circle cx="479.0" cy="150.9" r="2.0"/><circle cx="480.2" cy="149.6" r="1.9"/><circle cx="479.7" cy="147.5" r="2.3"/><circle cx="481.8" cy="146.2" r="2.4"/><circle cx="481.5" cy="145.6" r="2.4"/><circle cx="482.8" cy="144.4" r="2.1"/><circle cx="482.6" cy="142.5" r="2.3"/><circle cx="483.8" cy="140.9" r="2.1"/><circle cx="484.4" cy="139.4" r="2.1"/><circle cx="486.2" cy="138.7" r="2.1"/><circle cx="487.9" cy="137.3" r="2.5"/><circle cx="488.3" cy="135.5" r="2.2"/><circle cx="489.4" cy="133.3" r="2.3"/><circle cx="490.4" cy="132.3" r="2.1"/><circle cx="490.5" cy="130.3" r="2.1"/><circle cx="492.5" cy="129.7" r="2.2"/><circle cx="494.8" cy="83.3" r="3.8"/><circle cx="494.8" cy="81.8" r="3.9"/><circle cx="492.2" cy="79.7" r="4.0"/><circle cx="493.0" cy="79.2" r="3.1"/><circle cx="491.9" cy="76.2" r="3.5"/><circle cx="491.5" cy="73.7" r="3.2"/><circle cx="490.2" cy="73.7" r="3.8"/><circle cx="489.3" cy="71.5" r="3.1"/><circle cx="490.4" cy="67.9" r="3.0"/><circle cx="491.2" cy="66.0" r="3.2"/><circle cx="491.6" cy="65.3" r="3.3"/><circle cx="492.7" cy="63.2" r="3.7"/><circle cx="492.2" cy="62.7" r="3.7"/><circle cx="495.0" cy="61.2" r="3.3"/><circle cx="495.7" cy="58.9" r="3.1"/><circle cx="497.0" cy="58.6" r="3.6"/><circle cx="498.9" cy="58.8" r="3.3"/><circle cx="501.3" cy="59.3" r="3.5"/><circle cx="503.1" cy="58.8" r="3.7"/><circle cx="504.3" cy="60.1" r="3.0"/><circle cx="507.5" cy="60.1" r="3.0"/><circle cx="509.2" cy="60.4" r="3.6"/><circle cx="509.1" cy="61.1" r="3.2"/><circle cx="512.8" cy="62.8" r="3.8"/><circle cx="513.3" cy="66.2" r="3.3"/><circle cx="512.6" cy="67.1" r="3.8"/><circle cx="512.6" cy="69.3" r="3.8"/><circle cx="514.0" cy="69.5" r="4.0"/><circle cx="512.1" cy="71.9" r="3.6"/><circle cx="513.7" cy="73.7" r="3.9"/><circle cx="512.6" cy="75.4" r="3.3"/><circle cx="511.2" cy="76.4" r="3.1"/><circle cx="511.7" cy="79.9" r="3.1"/><circle cx="509.6" cy="81.4" r="3.5"/><circle cx="509.8" cy="81.2" r="3.6"/><circle cx="510.2" cy="83.7" r="3.4"/><circle cx="508.0" cy="86.7" r="3.0"/><circle cx="508.5" cy="88.5" r="3.1"/><circle cx="508.9" cy="90.5" r="3.6"/><circle cx="508.9" cy="90.4" r="3.4"/><circle cx="507.4" cy="93.8" r="3.3"/><circle cx="507.9" cy="95.9" r="3.9"/><circle cx="509.1" cy="96.5" r="3.5"/><circle cx="508.7" cy="98.4" r="3.3"/><circle cx="508.1" cy="99.4" r="3.4"/><circle cx="509.5" cy="103.0" r="3.6"/><circle cx="508.5" cy="103.4" r="3.1"/><circle cx="507.9" cy="106.0" r="3.9"/><circle cx="508.0" cy="107.6" r="3.8"/><circle cx="508.6" cy="109.0" r="3.8"/><circle cx="507.8" cy="110.6" r="3.3"/><circle cx="508.0" cy="112.4" r="3.7"/><circle cx="508.0" cy="114.5" r="3.7"/><circle cx="509.2" cy="114.2" r="3.5"/><circle cx="509.0" cy="117.4" r="3.5"/><circle cx="510.7" cy="119.1" r="3.8"/><circle cx="510.7" cy="120.8" r="3.7"/><circle cx="512.7" cy="121.8" r="3.9"/><circle cx="513.0" cy="123.8" r="3.5"/><circle cx="472.7" cy="130.4" r="4.5"/><circle cx="471.4" cy="131.3" r="3.9"/><circle cx="468.3" cy="133.2" r="4.4"/><circle cx="467.5" cy="134.1" r="4.2"/><circle cx="466.5" cy="134.3" r="4.2"/><circle cx="465.2" cy="136.6" r="3.8"/><circle cx="464.2" cy="138.0" r="4.1"/><circle cx="463.4" cy="137.8" r="3.5"/><circle cx="461.9" cy="140.3" r="3.6"/><circle cx="461.5" cy="141.8" r="3.4"/><circle cx="460.2" cy="142.5" r="3.4"/><circle cx="458.6" cy="144.1" r="3.5"/><circle cx="457.9" cy="145.1" r="3.9"/><circle cx="457.7" cy="148.2" r="4.0"/><circle cx="456.8" cy="150.8" r="3.3"/><circle cx="456.6" cy="151.6" r="3.8"/><circle cx="457.1" cy="154.7" r="3.8"/><circle cx="458.1" cy="156.2" r="3.4"/><circle cx="461.3" cy="155.2" r="4.0"/><circle cx="464.3" cy="155.6" r="3.8"/><circle cx="463.8" cy="153.3" r="3.7"/><circle cx="463.0" cy="151.0" r="3.9"/><circle cx="514.3" cy="173.2" r="3.3"/><circle cx="517.7" cy="173.9" r="3.3"/><circle cx="518.2" cy="173.8" r="2.7"/><circle cx="519.5" cy="173.1" r="3.3"/><circle cx="521.3" cy="173.3" r="3.6"/><circle cx="522.5" cy="174.4" r="2.9"/><circle cx="523.1" cy="176.9" r="3.1"/><circle cx="525.2" cy="178.3" r="3.3"/><circle cx="524.5" cy="180.0" r="3.2"/><circle cx="525.8" cy="180.1" r="3.7"/><circle cx="527.0" cy="181.6" r="3.2"/><circle cx="527.2" cy="183.7" r="3.1"/><circle cx="528.6" cy="185.6" r="3.5"/><circle cx="528.8" cy="186.5" r="3.0"/><circle cx="531.5" cy="188.4" r="3.0"/><circle cx="530.9" cy="188.5" r="3.7"/><circle cx="531.8" cy="190.8" r="3.2"/><circle cx="533.3" cy="192.2" r="3.4"/><circle cx="532.2" cy="194.5" r="3.0"/><circle cx="533.1" cy="195.7" r="3.0"/><circle cx="533.1" cy="197.9" r="3.1"/><circle cx="532.2" cy="199.5" r="2.8"/><circle cx="529.8" cy="200.6" r="3.6"/><circle cx="529.8" cy="202.1" r="2.7"/><circle cx="527.8" cy="202.1" r="3.3"/><circle cx="525.9" cy="202.8" r="3.2"/><circle cx="524.6" cy="202.5" r="3.1"/><circle cx="522.7" cy="202.4" r="3.0"/><circle cx="521.2" cy="201.4" r="3.5"/><circle cx="519.4" cy="201.4" r="3.0"/><circle cx="518.1" cy="201.6" r="2.9"/><circle cx="516.0" cy="200.1" r="3.2"/><circle cx="514.9" cy="197.8" r="3.3"/><circle cx="515.1" cy="196.1" r="2.9"/><circle cx="514.4" cy="196.1" r="3.4"/><circle cx="512.1" cy="194.4" r="3.7"/><circle cx="512.5" cy="193.4" r="2.8"/><circle cx="510.7" cy="191.4" r="3.3"/><circle cx="509.4" cy="191.4" r="2.8"/><circle cx="506.6" cy="190.8" r="2.9"/><circle cx="505.2" cy="189.8" r="2.9"/><circle cx="503.2" cy="189.1" r="2.8"/><circle cx="500.8" cy="189.1" r="2.8"/><circle cx="499.7" cy="191.2" r="3.6"/><circle cx="497.3" cy="191.4" r="3.0"/><circle cx="496.7" cy="192.2" r="3.6"/><circle cx="494.7" cy="192.1" r="3.4"/><circle cx="493.3" cy="194.8" r="3.2"/><circle cx="493.8" cy="196.1" r="3.3"/><circle cx="491.5" cy="197.6" r="3.0"/><circle cx="491.5" cy="199.0" r="2.8"/><circle cx="489.5" cy="200.0" r="3.4"/><circle cx="488.4" cy="201.9" r="3.3"/><circle cx="487.2" cy="203.1" r="2.8"/><circle cx="486.2" cy="204.2" r="2.9"/><circle cx="486.0" cy="207.0" r="3.2"/></g>
<g fill="#A651B8"><circle cx="490.1" cy="90.4" r="2.8"/><circle cx="491.7" cy="91.0" r="2.4"/><circle cx="494.3" cy="90.0" r="2.8"/><circle cx="496.3" cy="91.7" r="2.9"/><circle cx="497.6" cy="92.9" r="2.8"/><circle cx="498.8" cy="93.2" r="2.6"/><circle cx="500.6" cy="94.6" r="3.0"/><circle cx="500.7" cy="96.3" r="2.2"/><circle cx="501.1" cy="97.5" r="2.7"/><circle cx="502.5" cy="100.2" r="2.7"/><circle cx="502.3" cy="100.4" r="2.7"/><circle cx="502.4" cy="103.3" r="2.5"/><circle cx="502.8" cy="104.5" r="2.4"/><circle cx="502.0" cy="107.0" r="2.6"/><circle cx="493.6" cy="94.2" r="3.1"/><circle cx="494.5" cy="95.7" r="3.0"/><circle cx="495.6" cy="96.3" r="2.9"/><circle cx="497.5" cy="99.1" r="3.0"/><circle cx="497.9" cy="99.9" r="2.8"/><circle cx="499.0" cy="101.7" r="2.6"/><circle cx="498.8" cy="104.7" r="2.5"/><circle cx="499.0" cy="106.0" r="2.8"/><circle cx="501.1" cy="105.7" r="2.6"/><circle cx="501.8" cy="107.7" r="2.4"/><circle cx="502.1" cy="110.1" r="2.7"/><circle cx="501.7" cy="111.6" r="2.6"/><circle cx="501.0" cy="114.0" r="2.6"/><circle cx="497.5" cy="113.7" r="2.8"/><circle cx="499.4" cy="113.4" r="3.4"/><circle cx="500.2" cy="113.6" r="3.3"/><circle cx="502.5" cy="112.9" r="2.7"/><circle cx="502.8" cy="114.7" r="2.7"/><circle cx="504.4" cy="116.5" r="3.2"/><circle cx="505.4" cy="119.5" r="3.3"/><circle cx="504.7" cy="121.5" r="3.4"/><circle cx="503.9" cy="123.4" r="2.6"/><circle cx="502.4" cy="123.8" r="2.7"/><circle cx="501.1" cy="125.4" r="3.2"/><circle cx="500.1" cy="125.8" r="2.9"/><circle cx="498.1" cy="127.3" r="2.7"/><circle cx="497.2" cy="125.9" r="3.2"/><circle cx="496.0" cy="125.5" r="3.4"/><circle cx="494.3" cy="123.8" r="3.2"/><circle cx="493.7" cy="121.4" r="3.0"/><circle cx="494.4" cy="120.7" r="3.4"/><circle cx="495.1" cy="118.3" r="3.0"/><circle cx="496.3" cy="117.5" r="3.1"/><circle cx="497.0" cy="117.7" r="3.3"/><circle cx="498.7" cy="118.3" r="2.9"/><circle cx="500.0" cy="120.0" r="3.0"/><circle cx="471.6" cy="130.3" r="2.4"/><circle cx="473.3" cy="130.4" r="2.8"/><circle cx="476.1" cy="132.1" r="2.7"/><circle cx="477.7" cy="132.3" r="2.7"/><circle cx="479.5" cy="132.7" r="3.0"/><circle cx="480.8" cy="133.2" r="2.6"/><circle cx="482.9" cy="134.3" r="2.8"/><circle cx="484.0" cy="133.9" r="3.2"/><circle cx="486.2" cy="134.1" r="2.5"/><circle cx="487.6" cy="134.7" r="3.0"/><circle cx="489.0" cy="131.3" r="2.7"/><circle cx="490.0" cy="130.0" r="2.8"/><circle cx="492.3" cy="111.9" r="2.7"/><circle cx="493.4" cy="114.1" r="2.7"/><circle cx="493.5" cy="115.5" r="2.8"/><circle cx="494.4" cy="118.4" r="2.9"/><circle cx="495.4" cy="119.9" r="3.0"/><circle cx="494.6" cy="122.4" r="2.3"/><circle cx="493.9" cy="123.9" r="3.0"/><circle cx="493.5" cy="125.7" r="2.5"/><circle cx="491.1" cy="127.0" r="2.4"/><circle cx="489.8" cy="127.6" r="2.3"/><circle cx="488.0" cy="128.6" r="2.5"/><circle cx="486.4" cy="129.7" r="2.4"/><circle cx="483.5" cy="130.0" r="3.0"/><circle cx="482.0" cy="130.0" r="2.6"/></g>
<g fill="#4466B0"><polygon points="474.4957909123629,84.52124665035568 479.15737273212085,83.59224176028165 484.7024774886056,87.57209425773824 488.3851320998953,88.47713826889051 490.1505683026576,91.35590036195508 491.8575706055149,95.12020314167408 497.5256689243154,98.62156888537858 500.4111505478847,103.18856674816314 498.41464826803895,107.78399100489095 491.7086346790252,113.05534365625188 489.13661636763044,117.65294072017734 490.2897980692681,123.5662590130764 484.75281080644976,127.41920984865416 477.2772241375732,128.4241996390574 472.5887740610566,127.51226847011064 468.8703101938201,124.65740543478948 467.16025694009664,118.89827234174797 466.5413207096608,109.57066275496913 469.5990689445699,105.05457573189659 467.50729235157064,100.53672131213197 467.24144428666006,94.00936419746249 470.90675519194207,90.31825453607644"/><circle cx="474.6" cy="84.0" r="2.0"/><circle cx="476.0" cy="83.3" r="1.9"/><circle cx="478.5" cy="84.4" r="1.9"/><circle cx="480.1" cy="85.1" r="2.1"/><circle cx="481.5" cy="86.2" r="2.1"/><circle cx="483.1" cy="86.8" r="1.8"/><circle cx="484.3" cy="88.2" r="2.0"/><circle cx="487.3" cy="87.4" r="1.8"/><circle cx="487.6" cy="88.9" r="2.0"/><circle cx="488.4" cy="89.1" r="2.2"/><circle cx="490.1" cy="92.0" r="1.7"/><circle cx="491.2" cy="92.5" r="2.1"/><circle cx="492.1" cy="95.3" r="1.8"/><circle cx="494.1" cy="95.3" r="1.7"/><circle cx="495.0" cy="96.1" r="1.7"/><circle cx="496.0" cy="98.0" r="2.2"/><circle cx="497.9" cy="97.8" r="2.1"/><circle cx="499.1" cy="99.5" r="2.2"/><circle cx="499.0" cy="101.3" r="1.7"/><circle cx="500.9" cy="103.2" r="2.2"/><circle cx="499.7" cy="104.1" r="1.8"/><circle cx="498.7" cy="107.1" r="1.8"/><circle cx="497.7" cy="107.5" r="1.7"/><circle cx="496.9" cy="109.1" r="2.1"/><circle cx="495.1" cy="109.2" r="2.0"/><circle cx="494.7" cy="110.9" r="2.0"/><circle cx="493.8" cy="111.4" r="1.9"/><circle cx="491.7" cy="113.1" r="2.2"/><circle cx="491.0" cy="114.9" r="2.0"/><circle cx="490.5" cy="116.7" r="1.9"/><circle cx="488.4" cy="117.2" r="1.9"/><circle cx="490.2" cy="119.2" r="2.1"/><circle cx="490.2" cy="122.4" r="1.8"/><circle cx="490.8" cy="123.3" r="1.8"/><circle cx="489.1" cy="125.1" r="2.0"/><circle cx="486.7" cy="126.3" r="1.9"/><circle cx="486.4" cy="126.9" r="1.9"/><circle cx="484.6" cy="127.1" r="1.8"/><circle cx="482.1" cy="128.1" r="1.9"/><circle cx="481.7" cy="127.1" r="1.9"/><circle cx="478.6" cy="129.0" r="2.2"/><circle cx="478.0" cy="128.4" r="1.8"/><circle cx="474.8" cy="127.5" r="1.7"/><circle cx="472.7" cy="127.1" r="1.8"/><circle cx="470.8" cy="126.9" r="2.3"/><circle cx="468.8" cy="123.9" r="2.2"/><circle cx="467.6" cy="122.8" r="1.8"/><circle cx="468.6" cy="120.9" r="2.0"/><circle cx="466.8" cy="119.0" r="2.3"/><circle cx="466.9" cy="116.5" r="2.0"/><circle cx="467.7" cy="115.0" r="2.1"/><circle cx="467.5" cy="113.0" r="2.2"/><circle cx="466.7" cy="110.8" r="1.7"/><circle cx="467.3" cy="109.5" r="2.0"/><circle cx="468.3" cy="108.2" r="2.0"/><circle cx="468.2" cy="107.0" r="1.9"/><circle cx="469.5" cy="105.5" r="2.1"/><circle cx="468.2" cy="103.0" r="2.1"/><circle cx="468.6" cy="101.3" r="2.3"/><circle cx="466.8" cy="99.9" r="1.8"/><circle cx="467.3" cy="99.1" r="2.2"/><circle cx="466.8" cy="97.6" r="1.8"/><circle cx="467.5" cy="95.2" r="1.9"/><circle cx="466.4" cy="94.4" r="1.8"/><circle cx="468.9" cy="92.5" r="2.1"/><circle cx="469.9" cy="91.5" r="2.2"/><circle cx="471.7" cy="89.9" r="1.9"/><circle cx="472.5" cy="88.2" r="2.0"/><circle cx="472.5" cy="88.3" r="1.8"/><circle cx="473.9" cy="86.4" r="2.1"/><circle cx="474.5" cy="84.5" r="2.0"/><circle cx="468.2" cy="114.3" r="4.8"/><circle cx="466.8" cy="116.5" r="4.4"/><circle cx="463.4" cy="116.2" r="4.6"/><circle cx="462.5" cy="116.8" r="5.2"/><circle cx="459.6" cy="117.5" r="5.4"/><circle cx="458.9" cy="117.3" r="4.1"/><circle cx="457.0" cy="118.3" r="4.3"/><circle cx="455.0" cy="119.1" r="5.0"/><circle cx="452.9" cy="119.6" r="4.0"/><circle cx="451.7" cy="120.4" r="3.7"/><circle cx="450.0" cy="120.9" r="3.5"/><circle cx="448.8" cy="120.9" r="4.0"/><circle cx="446.9" cy="122.0" r="3.4"/><circle cx="445.0" cy="121.2" r="3.7"/><circle cx="443.1" cy="121.7" r="3.5"/><circle cx="441.7" cy="123.5" r="4.0"/><circle cx="440.0" cy="123.9" r="3.7"/><circle cx="439.4" cy="125.2" r="3.9"/><circle cx="436.6" cy="124.4" r="3.7"/><circle cx="434.9" cy="125.9" r="3.4"/><circle cx="434.4" cy="126.8" r="3.5"/><circle cx="432.6" cy="128.1" r="3.3"/><circle cx="431.3" cy="129.0" r="2.9"/><circle cx="431.0" cy="130.6" r="2.8"/></g></g>
<line x1="552.4" y1="60.2" x2="510.5" y2="97.3" stroke="#6A35B8" stroke-width="1.5"/>
<polygon points="506,101.2 514.6,99.2 508.8,92.8" fill="#6A35B8"/>
</svg>
</body></html>
